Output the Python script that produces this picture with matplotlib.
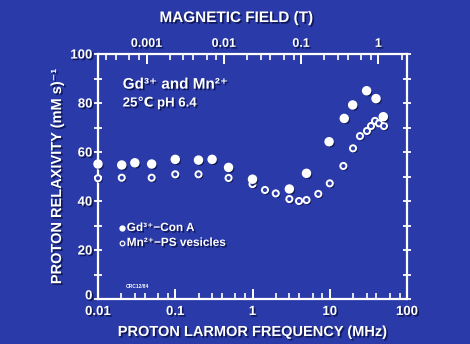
import numpy as np
import matplotlib
matplotlib.use("Agg")
from matplotlib import pyplot as plt
from matplotlib import patheffects as pe
from matplotlib import transforms as mtrans
from matplotlib.ticker import LogLocator, NullFormatter, FixedLocator, FuncFormatter

# Gd3+ - Con A (filled circles)
freq_gd = [0.01, 0.0203, 0.030, 0.0495, 0.10, 0.20, 0.30, 0.49, 1.0,
           3.0, 5.0, 9.8, 15.4, 19.8, 30.0, 39.7, 49.3]
relax_gd = [55.1, 54.7, 55.6, 55.1, 57.0, 56.7, 57.0, 53.7, 48.9,
            44.9, 51.3, 64.2, 73.7, 79.2, 85.0, 81.8, 74.4]

# Mn2+ - PS vesicles (open circles)
freq_mn = [0.01, 0.0203, 0.0495, 0.10, 0.20, 0.49, 1.0, 1.45, 2.0, 3.0,
           4.0, 5.0, 7.1, 10.0, 15.0, 20.0, 24.6, 30.3, 34.2, 38.5, 43.4, 50.3]
relax_mn = [49.3, 49.5, 49.5, 50.9, 50.9, 49.4, 46.9, 44.5, 43.1, 40.8,
            40.0, 40.4, 42.9, 47.2, 54.3, 61.5, 66.5, 68.6, 70.6, 72.7, 71.7, 70.6]

freq_ticks = [0.01, 0.1, 1, 10, 100]
field_ticks = [0.001, 0.01, 0.1, 1]
y_ticks = [0, 20, 40, 60, 80, 100]
MHZ_PER_T = 42.58

BG = "#2a3aa8"
FG = "white"
FONT = ["Liberation Sans", "DejaVu Sans"]
shadow = [pe.withSimplePatchShadow(offset=(1.2, -1.2), shadow_rgbFace="#0d1550", alpha=0.9)]

plt.rcParams['font.family'] = FONT
plt.rcParams['font.weight'] = 'bold'

fig = plt.figure(figsize=(4.7, 3.44), dpi=100, facecolor=BG)
ax = fig.add_axes([0.2085, 0.1308, 0.6575, 0.7122], facecolor=BG)

ax.plot(freq_gd, relax_gd, 'o', color=FG, ms=5.8, mec=FG, clip_on=False,
        zorder=5, path_effects=shadow)
ax.plot(freq_mn, relax_mn, 'o', mfc=BG, mec=FG, ms=4.4, mew=1.4, clip_on=False,
        zorder=4, path_effects=shadow)

ax.set_xscale('log')
ax.set_xlim(0.01, 100)
ax.set_ylim(0, 100)

for s in ax.spines.values():
    s.set_color(FG)
    s.set_linewidth(1.6)

fmt = FuncFormatter(lambda v, p: f"{v:g}")
ax.xaxis.set_major_locator(FixedLocator(freq_ticks))
ax.xaxis.set_major_formatter(fmt)
ax.xaxis.set_minor_locator(LogLocator(base=10, subs=(2, 3, 4, 6, 8)))
ax.xaxis.set_minor_formatter(NullFormatter())
ax.set_yticks(y_ticks)
ax.set_yticks(np.arange(10, 100, 20), minor=True)

ax.tick_params(axis='x', which='major', direction='in', length=7, width=1.4,
               colors=FG, labelsize=9.5, pad=5, top=False)
ax.tick_params(axis='x', which='minor', direction='in', length=4, width=1.2,
               colors=FG, top=False)
ax.tick_params(axis='y', which='both', direction='inout', length=6, width=1.3,
               colors=FG, labelsize=9.5, pad=1, right=True)
for lab in ax.get_xticklabels() + ax.get_yticklabels():
    lab.set_path_effects(shadow)
    lab.set_fontweight('bold')

# lift the "0" label a little so it clears "0.01"
zero_lab = ax.yaxis.get_major_ticks()[0].label1
zero_lab.set_transform(zero_lab.get_transform()
                       + mtrans.ScaledTranslation(0, 3 / 72, fig.dpi_scale_trans))

top = ax.secondary_xaxis('top', functions=(lambda f: f / MHZ_PER_T,
                                           lambda b: b * MHZ_PER_T))
top.xaxis.set_major_locator(FixedLocator(field_ticks))
top.xaxis.set_major_formatter(fmt)
top.xaxis.set_minor_locator(LogLocator(base=10, subs=(2, 3, 4, 6, 8)))
top.xaxis.set_minor_formatter(NullFormatter())
top.tick_params(which='major', direction='in', length=7, width=1.4, colors=FG,
                labelsize=9, pad=3)
top.tick_params(which='minor', direction='in', length=4, width=1.2, colors=FG)
top.spines['top'].set_visible(False)
for lab in top.get_xticklabels():
    lab.set_path_effects(shadow)
    lab.set_fontweight('bold')

fig.text(236 / 470, 1 - 18 / 344, "MAGNETIC FIELD (T)", color=FG, fontsize=11,
         fontweight='bold', ha='center', va='center', path_effects=shadow)
fig.text(253 / 470, 1 - 332 / 344, "PROTON LARMOR FREQUENCY (MHz)", color=FG,
         fontsize=10.5, fontweight='bold', ha='center', va='center',
         path_effects=shadow)
fig.text(57 / 470, 1 - 176 / 344, "PROTON RELAXIVITY (mM s)⁻¹", color=FG,
         fontsize=10.5, fontweight='bold', rotation=90, ha='center',
         va='center', path_effects=shadow)

ax.text(0.08, 0.875, "Gd³⁺ and Mn²⁺", transform=ax.transAxes, color=FG,
        fontsize=11, fontweight='bold', va='center', path_effects=shadow)
ax.text(0.08, 0.80, "25℃ pH 6.4", transform=ax.transAxes, color=FG,
        fontsize=9.5, fontweight='bold', va='center', path_effects=shadow)

ax.plot([0.0775], [0.29], 'o', color=FG, ms=3.5, transform=ax.transAxes)
ax.text(0.093, 0.29, "Gd³⁺−Con A", transform=ax.transAxes, color=FG,
        fontsize=8.5, fontweight='bold', va='center', path_effects=shadow)
ax.plot([0.0775], [0.229], 'o', mfc=BG, mec=FG, ms=3.3, mew=0.9,
        transform=ax.transAxes)
ax.text(0.093, 0.229, "Mn²⁺−PS vesicles", transform=ax.transAxes, color=FG,
        fontsize=8.5, fontweight='bold', va='center', path_effects=shadow)

ax.text(0.09, 0.05, "CRC12/84", transform=ax.transAxes, color=FG,
        fontsize=3.5, fontweight='bold', va='center')

fig.savefig("out.png", dpi=100, facecolor=BG)
